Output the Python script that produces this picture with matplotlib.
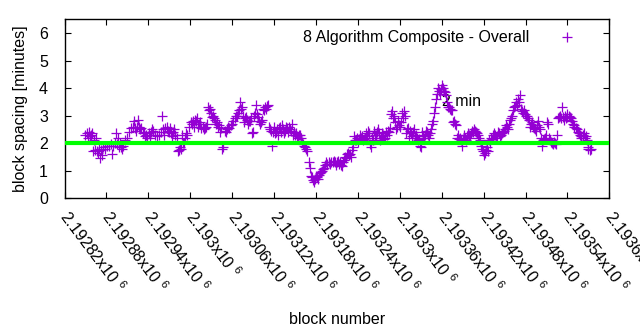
import numpy as np
import matplotlib
matplotlib.use('Agg')
import matplotlib.pyplot as plt
import matplotlib.transforms as mtransforms

plt.rcParams['font.family'] = ['Liberation Sans', 'DejaVu Sans']
plt.rcParams['mathtext.fontset'] = 'custom'
plt.rcParams['mathtext.rm'] = 'Liberation Sans'

# block numbers are stored as offsets from the first x tick
BLOCK0 = 2192820

# main trace of the composite series
main_offset = [29, 32, 35, 38, 41, 44, 47, 49, 52, 55, 58, 61, 64, 67, 69, 72, 75, 78, 81, 84,
               87, 89, 92, 95, 98, 101, 104, 107, 109, 112, 115, 118, 121, 124, 127, 130, 132, 135, 138, 141,
               144, 147, 150, 152, 155, 158, 161, 164, 167, 170, 172, 175, 178, 181, 184, 187, 190, 192, 195, 198,
               201, 204, 207, 210, 213, 215, 218, 221, 224, 227, 230, 233, 235, 238, 241, 244, 247, 250, 253, 255,
               258, 261, 264, 267, 270, 273, 275, 278, 281, 284, 287, 290, 293, 295, 298, 301, 304, 307, 310, 313,
               316, 318, 321, 324, 327, 330, 333, 336, 338, 341, 344, 347, 350, 353, 356, 358, 361, 364, 367, 370,
               373, 376, 378, 381, 384, 387, 390, 393, 396, 399, 401, 404, 407, 410, 413, 416, 419, 421, 424, 427,
               430, 433, 436, 439, 441, 444, 447, 450, 453, 456, 459, 461, 464, 467, 470, 473, 476, 479, 482, 484,
               487, 490, 493, 496, 499, 502, 504, 507, 510, 513, 516, 519, 522, 524, 527, 530, 533, 536, 539, 542,
               544, 547, 550, 553, 556, 559, 562, 565, 567, 570, 573, 576, 579, 582, 585, 587, 590, 593, 596, 599,
               602, 605, 607, 610, 613, 616, 619, 622, 625, 627, 630, 633, 636, 639, 642, 645, 648, 650, 653, 656,
               659, 662, 665, 668, 670, 673, 676, 679, 682, 685, 688, 690, 693, 696, 699, 702, 705, 708, 710, 713,
               716, 719, 722, 725, 728, 730, 733, 736, 739, 742, 745, 748, 750, 753]
main_spacing = [2.3, 2.35, 2.4, 2.3, 1.7, 1.75, 1.7, 1.8, 1.75, 1.85, 1.8, 1.9, 1.9, 1.95, 1.9, 2.0, 1.95, 1.85, 1.85, 1.9,
                2.1, 2.2, 2.4, 2.55, 2.6, 2.55, 2.6, 2.6, 2.55, 2.35, 2.25, 2.2, 2.35, 2.4, 2.45, 2.3, 2.25, 2.3, 2.4, 2.5,
                2.55, 2.6, 2.4, 2.35, 2.4, 2.3, 2.2, 1.75, 1.8, 2.0, 2.2, 2.3, 2.6, 2.75, 2.8, 2.85, 2.9, 2.7, 2.55, 2.6,
                2.55, 2.7, 3.2, 3.1, 3.0, 2.85, 2.75, 2.65, 2.55, 1.85, 2.45, 2.5, 2.55, 2.65, 2.8, 2.9, 3.0, 3.2, 3.25, 3.0,
                2.9, 2.85, 2.8, 2.9, 2.4, 3.1, 3.05, 2.8, 2.75, 3.25, 3.3, 3.35, 2.6, 2.45, 2.4, 2.35, 2.5, 2.55, 2.4, 2.5,
                2.45, 2.55, 2.6, 2.45, 2.3, 2.3, 2.25, 2.3, 2.2, 1.95, 1.85, 1.7, 1.3, 0.8, 0.65, 0.7, 0.75, 0.85, 0.95, 1.05,
                1.2, 1.25, 1.3, 1.3, 1.3, 1.3, 1.3, 1.25, 1.2, 1.3, 1.5, 1.6, 1.55, 1.5, 1.85, 2.1, 2.2, 2.15, 2.2, 2.1,
                2.2, 2.25, 2.35, 1.85, 2.1, 2.3, 2.4, 2.35, 2.2, 2.3, 2.2, 2.3, 2.4, 3.05, 2.9, 2.75, 2.6, 2.65, 2.75, 2.9,
                3.0, 2.5, 2.2, 2.35, 2.4, 2.25, 2.2, 2.15, 1.85, 2.25, 2.3, 2.4, 2.2, 2.5, 2.8, 3.3, 3.8, 3.9, 3.95, 4.0,
                3.85, 3.5, 3.3, 3.2, 2.75, 2.7, 2.2, 2.15, 2.1, 2.15, 2.2, 2.25, 2.3, 2.35, 2.4, 2.45, 2.35, 2.2, 1.9, 1.7,
                1.65, 1.85, 2.1, 2.2, 2.3, 2.3, 2.25, 2.35, 2.3, 2.4, 2.5, 2.6, 2.7, 2.9, 3.2, 3.35, 3.4, 3.5, 3.25, 3.1,
                3.05, 3.0, 2.85, 2.7, 2.6, 2.5, 2.65, 2.6, 2.2, 2.1, 2.2, 2.75, 2.2, 2.05, 1.95, 2.0, 2.3, 2.95, 2.9, 2.95,
                3.0, 2.95, 3.0, 2.9, 2.7, 2.6, 2.5, 2.35, 2.25, 2.3, 2.2, 2.1, 1.85, 1.8]

# scattered points around the trace
extra_offset = [34, 36, 39, 42, 45, 48, 51, 54, 68, 74, 77, 79, 82, 99, 102, 105, 108, 114, 117, 122,
                125, 140, 142, 148, 151, 154, 157, 162, 165, 168, 171, 174, 182, 185, 188, 191, 194, 200, 202, 205,
                208, 211, 214, 217, 220, 223, 225, 231, 234, 240, 245, 248, 251, 254, 257, 260, 263, 265, 268, 271,
                274, 277, 280, 283, 285, 288, 291, 294, 297, 300, 303, 305, 308, 311, 314, 317, 320, 323, 325, 328,
                331, 334, 337, 340, 343, 346, 351, 354, 357, 360, 363, 366, 368, 371, 374, 380, 386, 389, 391, 394,
                397, 400, 403, 406, 409, 411, 414, 417, 420, 423, 426, 429, 431, 434, 437, 440, 443, 446, 449, 451,
                454, 457, 460, 463, 466, 469, 471, 474, 477, 480, 483, 486, 489, 492, 494, 497, 500, 503, 506, 509,
                512, 514, 517, 520, 523, 526, 529, 532, 535, 537, 540, 543, 546, 549, 552, 555, 557, 560, 563, 566,
                569, 572, 575, 577, 580, 583, 586, 589, 592, 595, 597, 600, 603, 606, 609, 612, 615, 617, 620, 623,
                626, 629, 632, 635, 638, 640, 643, 646, 649, 652, 655, 658, 660, 663, 666, 669, 672, 675, 678, 680,
                683, 686, 689, 692, 695, 698, 700, 703, 706, 709, 712, 715, 718, 720, 723, 726, 729, 732, 735, 738,
                740, 743, 746, 749, 752]
extra_spacing = [2.2, 2.25, 2.35, 2.1, 2.2, 1.65, 1.45, 1.55, 1.6, 2.35, 2.2, 2.0, 1.8, 2.8, 2.45, 2.85, 2.5, 2.4, 2.3, 2.2,
                 2.5, 3.0, 2.3, 2.45, 2.55, 2.25, 2.5, 1.7, 1.85, 2.3, 2.0, 2.35, 2.7, 2.6, 2.8, 2.6, 2.75, 2.5, 2.6, 3.3,
                 3.25, 2.95, 2.9, 2.7, 2.6, 2.4, 1.8, 2.4, 2.6, 2.7, 3.0, 3.1, 3.5, 3.3, 2.75, 2.95, 2.7, 2.8, 2.35, 3.0,
                 3.4, 2.95, 2.7, 2.85, 3.2, 3.25, 3.4, 2.5, 1.9, 2.6, 2.4, 2.3, 2.6, 2.65, 2.35, 2.6, 2.4, 2.5, 2.7, 2.4,
                 2.35, 2.2, 2.3, 2.05, 1.9, 1.8, 1.1, 0.75, 0.6, 0.8, 0.7, 0.9, 1.0, 1.1, 1.3, 1.25, 1.35, 1.2, 1.35, 1.3,
                 1.15, 1.4, 1.45, 1.65, 1.6, 1.75, 2.25, 2.1, 2.05, 2.3, 2.25, 2.15, 2.35, 2.45, 1.95, 2.2, 2.45, 2.3, 2.5, 2.1,
                 2.35, 2.15, 2.4, 2.45, 2.55, 3.15, 3.0, 2.5, 2.8, 2.6, 3.1, 3.15, 2.35, 2.55, 2.45, 2.25, 2.5, 2.3, 2.1, 1.9,
                 2.4, 2.2, 2.45, 2.3, 2.35, 2.7, 3.1, 3.6, 4.0, 3.8, 4.1, 3.9, 3.75, 3.3, 3.25, 3.2, 2.8, 2.65, 2.3, 2.2,
                 1.9, 2.3, 2.1, 2.35, 2.2, 2.45, 2.5, 2.4, 2.3, 2.1, 1.8, 1.55, 1.75, 1.7, 2.0, 2.15, 2.35, 2.2, 2.4, 2.25,
                 2.35, 2.45, 2.65, 2.5, 2.85, 3.0, 3.3, 3.5, 3.6, 3.75, 3.15, 3.2, 3.0, 2.9, 2.6, 2.75, 2.55, 2.45, 2.8, 2.5,
                 1.9, 2.15, 2.3, 2.7, 2.1, 2.0, 2.05, 1.95, 2.9, 3.0, 3.3, 2.85, 2.9, 3.05, 2.95, 2.8, 2.65, 2.55, 2.4, 2.3,
                 2.2, 2.35, 2.25, 1.8, 1.75]

tick_blocks = [2192820, 2192880, 2192940, 2193000, 2193060, 2193120, 2193180,
               2193240, 2193300, 2193360, 2193420, 2193480, 2193540, 2193600]
tick_text = ['2.19282', '2.19288', '2.19294', '2.193', '2.19306', '2.19312', '2.19318',
             '2.19324', '2.1933', '2.19336', '2.19342', '2.19348', '2.19354', '2.1936']
target_minutes = 2

blocks = BLOCK0 + np.array(main_offset + extra_offset)
spacing = np.array(main_spacing + extra_spacing)

fig = plt.figure(figsize=(6.4, 3.3), dpi=100)
ax = fig.add_axes([0.1008, 0.4, 0.8514, 0.5415])

purple = '#9400d3'
ax.text(2193360, 3.5, '2 min', fontsize=11.5, va='center', ha='left', zorder=1)
ax.plot(blocks, spacing, linestyle='none', marker='+', markersize=6.5,
        markeredgewidth=0.9, color=purple, zorder=2, label='8 Algorithm Composite - Overall')
ax.axhline(target_minutes, color='#00ff00', linewidth=3, zorder=3)

ax.set_xlim(tick_blocks[0], tick_blocks[-1])
ax.set_ylim(0, 6.5)
ax.set_yticks(range(7))
ax.set_xticks(tick_blocks)
ax.set_xticklabels([t + r'x10 $^{6}$' for t in tick_text], rotation=-53,
                   ha='left', va='top', rotation_mode='anchor')
ax.tick_params(direction='in', length=4, width=0.8, top=True, right=True,
               labelsize=11.5, colors='black')
ax.tick_params(axis='y', pad=12)
ax.tick_params(axis='x', pad=7)
# nudge the rotated labels so they start right at the tick
shift = mtransforms.ScaledTranslation(0.07, 0, fig.dpi_scale_trans)
for lbl in ax.get_xticklabels():
    lbl.set_transform(lbl.get_transform() + shift)
for sp in ax.spines.values():
    sp.set_linewidth(1)

ax.set_xlabel('block number', fontsize=11.5, labelpad=12)
ax.set_ylabel('block spacing [minutes]', fontsize=11.5, labelpad=8)

leg = ax.legend(loc='upper right', frameon=False, fontsize=11.5, markerfirst=False,
                handlelength=1.5, handletextpad=1.6, borderaxespad=0.3,
                bbox_to_anchor=(0.965, 1.0))

fig.savefig('out.png', dpi=100)
